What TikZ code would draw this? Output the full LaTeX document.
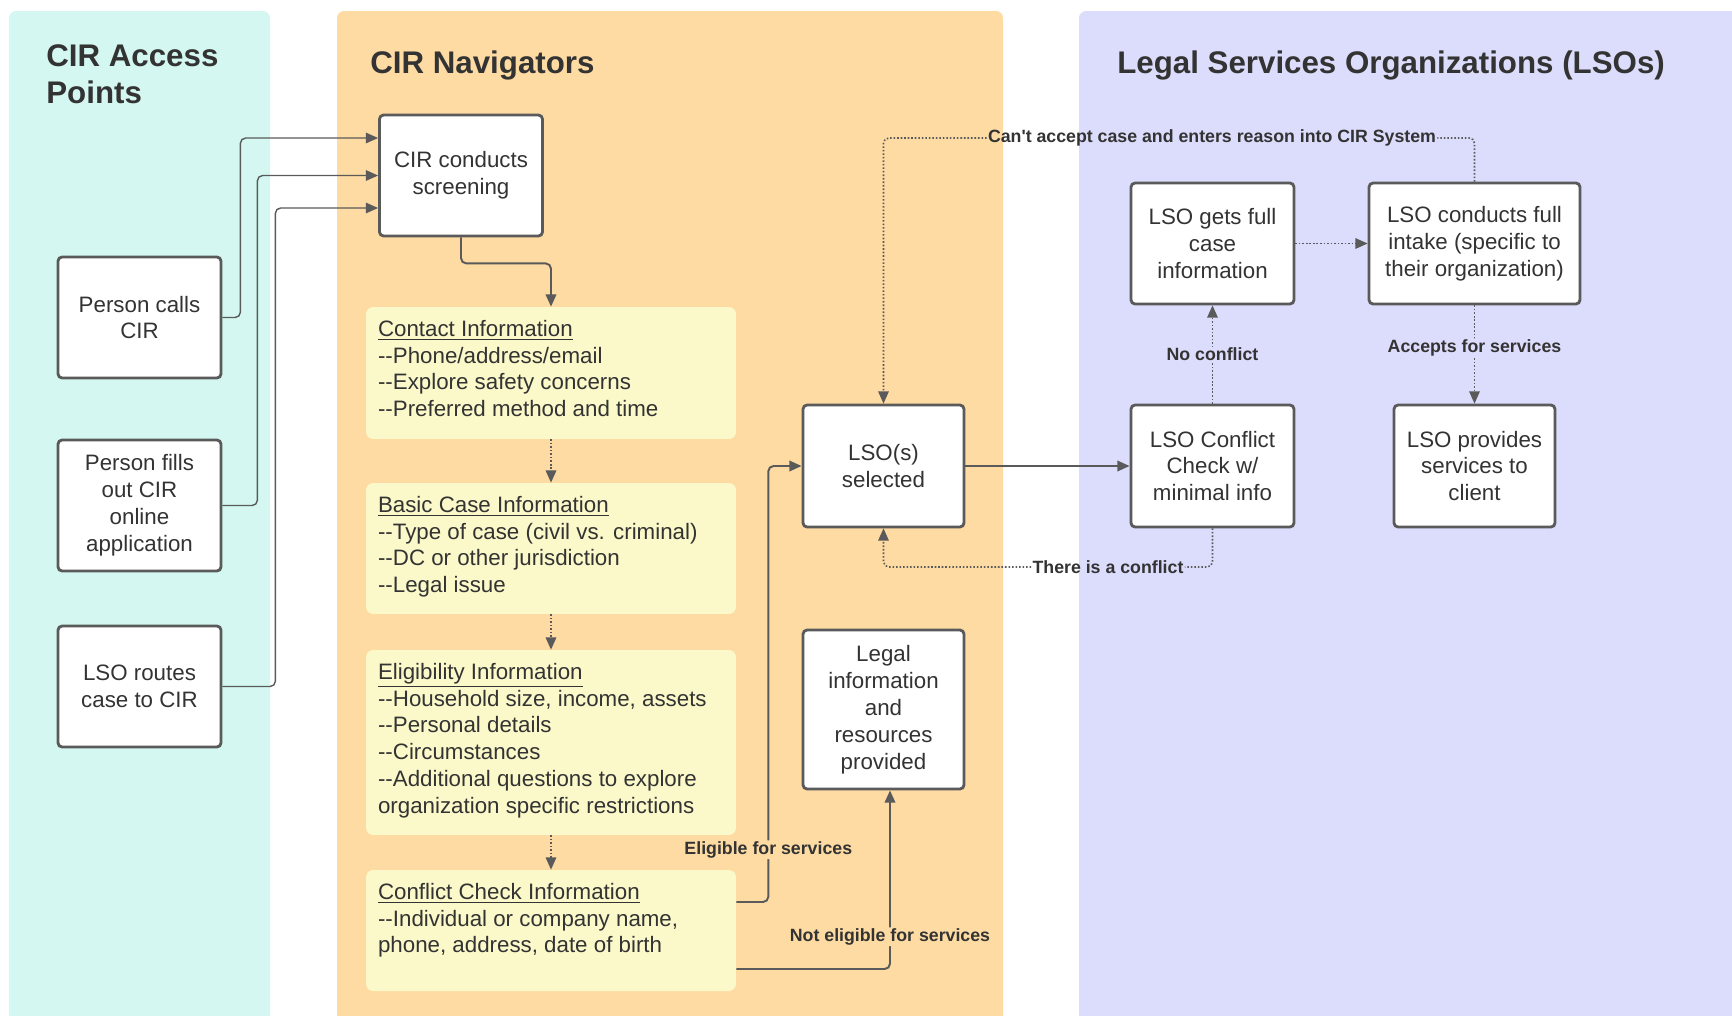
\documentclass[tikz,border=0pt]{standalone}
\usepackage{fontspec}
\setmainfont{Liberation Sans}
\usetikzlibrary{arrows.meta,positioning,calc}
\definecolor{cirLane}{HTML}{D4F8F1}
\definecolor{navLane}{HTML}{FDDBA3}
\definecolor{lsoLane}{HTML}{DCDCFC}
\definecolor{infoFill}{HTML}{FBF9C9}
\definecolor{boxEdge}{HTML}{5A5A5A}
\definecolor{inkText}{HTML}{333333}
\tikzset{
  laneTitle/.style={anchor=north west, inner sep=0pt, align=left,
    font=\fontsize{17.8}{21}\selectfont\bfseries, text=inkText},
  stepbox/.style={draw=boxEdge, line width=1.6pt, fill=white, rounded corners=2.3pt,
    minimum width=3.26cm, minimum height=2.42cm, align=center, text=inkText,
    font=\fontsize{12.7}{15.3}\selectfont},
  infobox/.style={fill=infoFill, rounded corners=4pt, minimum width=7.4cm, inner sep=0pt},
  infotext/.style={anchor=north west, inner sep=0pt, align=left, text=inkText,
    font=\fontsize{12.7}{15.3}\selectfont},
  flow/.style={-{Triangle[length=7pt,width=6pt]}, line width=1.1pt, boxEdge, rounded corners=3pt},
  feed/.style={flow, line width=0.8pt},
  dotflow/.style={flow, line width=0.9pt, dash pattern=on 0.9pt off 1.1pt},
  dotline/.style={dotflow, -},
  edgelabel/.style={font=\fontsize{10.1}{12}\selectfont\bfseries, text=inkText, inner sep=0.6pt}
}
\begin{document}
\begin{tikzpicture}[x=0.02cm, y=-0.02cm]
  \useasboundingbox (0,0) rectangle (1732,1015);
  % swim lanes
  \fill[cirLane, rounded corners=4pt] (9,11) rectangle (270,1040);
  \fill[navLane, rounded corners=4pt] (337,11) rectangle (1003,1040);
  \fill[lsoLane, rounded corners=4pt] (1079,11) rectangle (1760,1040);
  \node[laneTitle] (cirT) at (46,44) {CIR Access\\Points};
  \node[laneTitle] (navT) at (370,50) {CIR Navigators};
  \node[laneTitle] (lsoT) at (1117,50) {Legal Services Organizations (LSOs)};

  % access points
  \node[stepbox] (calls) at (139.5,317.5) {Person calls\\CIR};
  \node[stepbox, minimum height=2.62cm] (fills) at (139.5,505.5) {Person fills\\out CIR\\online\\application};
  \node[stepbox] (routes) at (139.5,686.5) {LSO routes\\case to CIR};

  % navigators
  \node[stepbox] (screen) at (461,175.5) {CIR conducts\\screening};
  \node[infobox, minimum height=2.64cm] (contact) at (551,373) {};
  \node[infobox, minimum height=2.62cm] (basic) at (551,548.5) {};
  \node[infobox, minimum height=3.7cm] (elig) at (551,742.5) {};
  \node[infobox, minimum height=2.42cm] (confl) at (551,930.5) {};
  \node[infotext] (contactT) at ([shift={(12,13)}]contact.north west)
    {\underline{Contact Information}\\-{}-Phone/address/email\\-{}-Explore safety concerns\\-{}-Preferred method and time};
  \node[infotext] (basicT) at ([shift={(12,13)}]basic.north west)
    {\underline{Basic Case Information}\\-{}-Type of case (civil vs. criminal)\\-{}-DC or other jurisdiction\\-{}-Legal issue};
  \node[infotext] (eligT) at ([shift={(12,13)}]elig.north west)
    {\underline{Eligibility Information}\\-{}-Household size, income, assets\\-{}-Personal details\\-{}-Circumstances\\-{}-Additional questions to explore\\organization specific restrictions};
  \node[infotext] (conflT) at ([shift={(12,13)}]confl.north west)
    {\underline{Conflict Check Information}\\-{}-Individual or company name,\\phone, address, date of birth};
  \node[stepbox, minimum width=3.22cm, minimum height=2.44cm] (sel) at (883.5,466) {LSO(s)\\selected};
  \node[stepbox, minimum width=3.22cm, minimum height=3.18cm] (legal) at (883.5,709.5) {Legal\\information\\and\\resources\\provided};

  % LSOs
  \node[stepbox] (full) at (1212.5,243.5) {LSO gets full\\case\\information};
  \node[stepbox, minimum width=4.22cm] (intake) at (1474.5,243.5) {LSO conducts full\\intake (specific to\\their organization)};
  \node[stepbox, minimum height=2.44cm] (check) at (1212.5,466) {LSO Conflict\\Check w/\\minimal info};
  \node[stepbox, minimum width=3.22cm, minimum height=2.44cm] (provides) at (1474.5,466) {LSO provides\\services to\\client};

  % into screening
  \draw[feed] (calls.east) -- ++(18,0) |- ([yshift=0.75cm]screen.west);
  \draw[feed] (fills.east) -- ++(35,0) |- (screen.west);
  \draw[feed] (routes.east) -- ++(53,0) |- ([yshift=-0.65cm]screen.west);
  \draw[flow] (screen.south) -- ++(0,26) -| (contact.north);
  \foreach \s/\e in {contact/basic, basic/elig, elig/confl}{\draw[dotflow] (\s.south) -- (\e.north);}
  \draw[flow] ([yshift=0.57cm]confl.east) -- ++(32,0) |- (sel.west)
    node[edgelabel, fill=navLane, pos=0.06] (eligL) {Eligible for services};
  \draw[flow] ([yshift=-0.77cm]confl.east) -| ([xshift=0.13cm]legal.south)
    node[edgelabel, fill=navLane, pos=0.59] (noteL) {Not eligible for services};
  \draw[flow] (sel.east) -- (check.west);

  % LSO side
  \draw[dotflow] (check.north) -- (full.south) node[edgelabel, fill=lsoLane, midway] (noL) {No conflict};
  \draw[dotflow] (full.east) -- (intake.west);
  \draw[dotflow] (intake.south) -- (provides.north) node[edgelabel, fill=lsoLane, pos=0.43] (accL) {Accepts for services};
  \node[edgelabel] (cant) at (1212,138) {Can\textquotesingle t accept case and enters reason into CIR System};
  \draw[dotline] (intake.north) |- (cant.east);
  \draw[dotflow] (cant.west) -| (sel.north);
  \node[edgelabel] (conf) at (1108,567) {There is a conflict};
  \draw[dotline] (check.south) |- (conf.east);
  \draw[dotflow] (conf.west) -| (sel.south);
\end{tikzpicture}
\end{document}
